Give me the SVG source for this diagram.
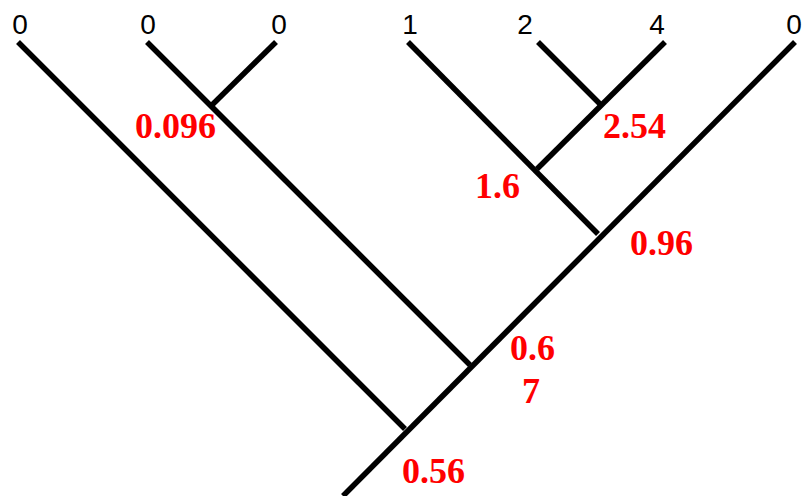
<svg xmlns="http://www.w3.org/2000/svg" width="802" height="496" viewBox="0 0 802 496">
<style>
.e{stroke:#000;stroke-width:5.5;fill:none;stroke-linecap:butt}
.leaf{font-family:"Liberation Sans",Arial,sans-serif;font-size:28px;fill:#000;text-anchor:middle}
.val{font-family:"Liberation Serif","Times New Roman",serif;font-size:36px;font-weight:bold;fill:#ff0000}
</style>
<rect width="802" height="496" fill="#fff"/>
<g id="connectors">
<line class="e" x1="343" y1="496" x2="795" y2="42"/>
<line class="e" x1="18" y1="42" x2="405" y2="429"/>
<line class="e" x1="147" y1="42" x2="470" y2="365"/>
<line class="e" x1="276" y1="42" x2="212" y2="105"/>
<line class="e" x1="408" y1="42" x2="598" y2="234"/>
<line class="e" x1="538" y1="42" x2="600" y2="104"/>
<line class="e" x1="665" y1="42" x2="537" y2="169"/>
</g>
<g id="leaf1"><text class="leaf" x="20" y="34">0</text></g>
<g id="leaf2"><text class="leaf" x="148" y="34">0</text></g>
<g id="leaf3"><text class="leaf" x="279" y="34">0</text></g>
<g id="leaf4"><text class="leaf" x="410" y="34">1</text></g>
<g id="leaf5"><text class="leaf" x="525" y="34">2</text></g>
<g id="leaf6"><text class="leaf" x="657" y="34">4</text></g>
<g id="leaf7"><text class="leaf" x="794" y="34">0</text></g>
<g id="n1"><text class="val" x="135" y="138">0.096</text></g>
<g id="n2"><text class="val" x="603" y="138">2.54</text></g>
<g id="n3"><text class="val" x="475" y="198">1.6</text></g>
<g id="n4"><text class="val" x="630" y="255">0.96</text></g>
<g id="n5"><text class="val" x="510" y="360">0.6</text><text class="val" x="522" y="403">7</text></g>
<g id="n6"><text class="val" x="402" y="483">0.56</text></g>
</svg>
